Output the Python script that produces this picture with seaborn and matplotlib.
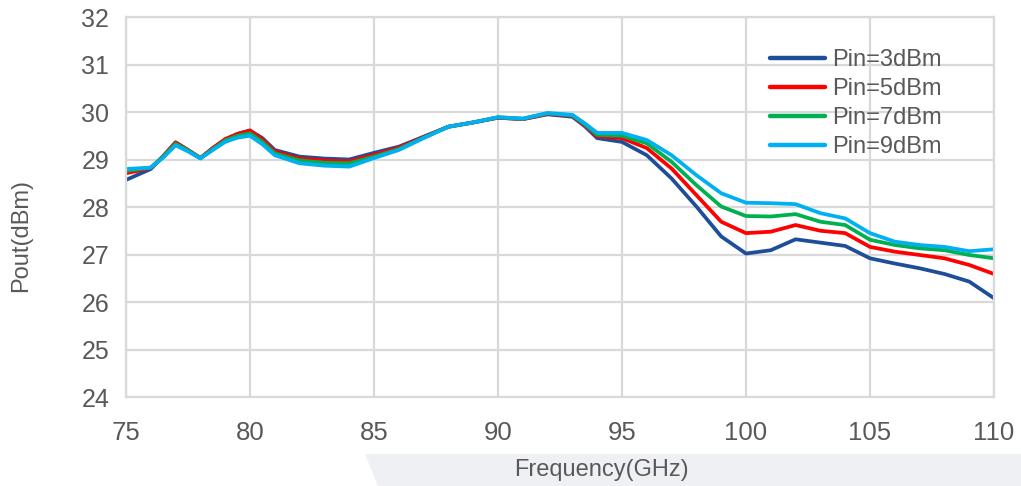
import matplotlib
matplotlib.use("Agg")
import matplotlib.pyplot as plt
import pandas as pd
import seaborn as sns
from matplotlib.patches import Polygon

# data (GHz, dBm)
freq = [75, 76, 76.5, 77, 77.5, 78, 78.5, 79, 79.5, 80, 80.5, 81, 82, 83, 84,
        85, 86, 87, 88, 89, 90, 91, 92, 93, 93.5, 94,
        95, 96, 97, 98, 99, 100, 101, 102, 103, 104,
        105, 106, 107, 108, 109, 110]
pin3 = [28.57, 28.80, 29.07, 29.36, 29.20, 29.03, 29.24, 29.42, 29.54, 29.61, 29.45, 29.20, 29.06, 29.02, 29.00,
        29.14, 29.27, 29.48, 29.69, 29.78, 29.88, 29.85, 29.95, 29.90, 29.70, 29.45,
        29.37, 29.09, 28.60, 28.01, 27.38, 27.02, 27.09, 27.32, 27.25, 27.18,
        26.92, 26.81, 26.71, 26.59, 26.43, 26.08]
pin5 = [28.71, 28.82, 29.07, 29.36, 29.20, 29.03, 29.24, 29.43, 29.54, 29.61, 29.42, 29.17, 29.02, 28.98, 28.96,
        29.10, 29.25, 29.47, 29.69, 29.78, 29.88, 29.85, 29.96, 29.92, 29.72, 29.49,
        29.45, 29.24, 28.81, 28.25, 27.69, 27.45, 27.48, 27.62, 27.50, 27.45,
        27.16, 27.06, 26.99, 26.92, 26.78, 26.59]
pin7 = [28.76, 28.83, 29.06, 29.33, 29.19, 29.03, 29.22, 29.40, 29.50, 29.55, 29.37, 29.13, 28.98, 28.93, 28.92,
        29.06, 29.22, 29.46, 29.69, 29.78, 29.89, 29.86, 29.97, 29.93, 29.74, 29.52,
        29.50, 29.34, 28.95, 28.46, 28.01, 27.81, 27.80, 27.85, 27.69, 27.62,
        27.31, 27.20, 27.13, 27.09, 26.99, 26.92]
pin9 = [28.80, 28.83, 29.04, 29.30, 29.17, 29.02, 29.20, 29.37, 29.46, 29.50, 29.32, 29.09, 28.92, 28.87, 28.85,
        29.03, 29.20, 29.45, 29.69, 29.78, 29.89, 29.86, 29.98, 29.94, 29.76, 29.56,
        29.56, 29.41, 29.09, 28.67, 28.29, 28.09, 28.08, 28.06, 27.87, 27.76,
        27.45, 27.27, 27.20, 27.16, 27.07, 27.11]
labels = ["Pin=3dBm", "Pin=5dBm", "Pin=7dBm", "Pin=9dBm"]
colors = ["#1F4E99", "#FF0000", "#00B050", "#00B0F0"]

rows = []
for lab, vals in zip(labels, [pin3, pin5, pin7, pin9]):
    for f, v in zip(freq, vals):
        rows.append({"Frequency": f, "Pout": v, "series": lab})
df = pd.DataFrame(rows)

sns.set_style("white")
plt.rcParams["font.family"] = ["Liberation Sans", "DejaVu Sans"]

fig = plt.figure(figsize=(10.21, 4.86), dpi=100)
# grey decoration strip at the bottom (behind everything)
fig.patches.append(Polygon([[365 / 1021, 1 - 454 / 486], [1, 1 - 454 / 486], [1, 0], [378 / 1021, 0]],
                           closed=True, transform=fig.transFigure, facecolor="#eef0f4",
                           edgecolor="none", zorder=-5))
ax = fig.add_axes([126 / 1021, 1 - 397 / 486, 868 / 1021, 380 / 486])

sns.lineplot(data=df, x="Frequency", y="Pout", hue="series", hue_order=labels,
             palette=colors, linewidth=2.7, ax=ax, legend=True)
for ln in ax.lines:
    ln.set_solid_joinstyle("round")
    ln.set_solid_capstyle("round")

ax.set_xlim(75, 110)
ax.set_ylim(24, 32)
ax.set_xticks(range(75, 111, 5))
ax.set_yticks(range(24, 33))
ax.grid(True, color="#d9d9d9", linewidth=1.6)
ax.set_axisbelow(True)
for sp in ax.spines.values():
    sp.set_color("#d9d9d9")
    sp.set_linewidth(1.6)
ax.tick_params(axis="both", length=0, colors="#595959")
ax.tick_params(axis="y", pad=12, labelsize=18)
ax.tick_params(axis="x", pad=17, labelsize=18.5)

ax.set_xlabel("Frequency(GHz)", fontsize=17, color="#595959")
ax.set_ylabel("Pout(dBm)", fontsize=17, color="#595959")
ax.xaxis.set_label_coords((601 - 126) / 868, (397 - 459) / 380)
ax.yaxis.set_label_coords((10 - 126) / 868, (397 - 235) / 380)
ax.yaxis.label.set_verticalalignment("top")

leg = ax.legend(loc="upper left", bbox_to_anchor=((770 - 126) / 868, (397 - 49) / 380),
                frameon=False, fontsize=17, handlelength=2.35, handletextpad=0.3,
                labelspacing=0.3, borderpad=0, borderaxespad=0)
for t in leg.get_texts():
    t.set_color("#595959")
for h in leg.legend_handles:
    h.set_linewidth(3.2)

fig.savefig("out.png", dpi=100)
